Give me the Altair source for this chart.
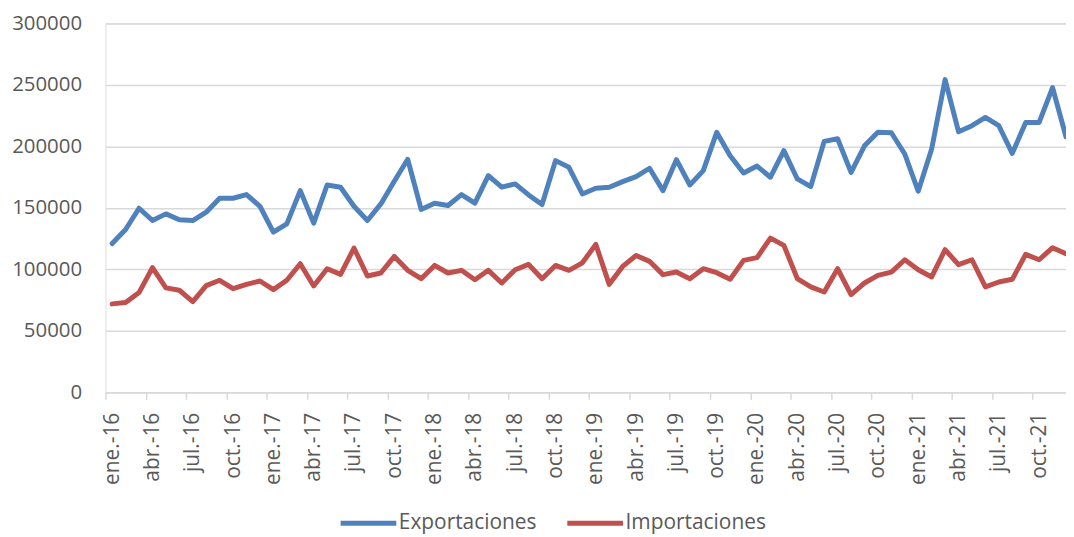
import altair as alt
import pandas as pd

meses = ["ene.", "feb.", "mar.", "abr.", "may.", "jun.",
         "jul.", "ago.", "sep.", "oct.", "nov.", "dic."]
anios = ["16", "17", "18", "19", "20", "21"]
periodos = [f"{m}-{a}" for a in anios for m in meses]

exportaciones = [
    121000, 132400, 149700, 139700, 145100, 140300, 139700, 146500, 157800, 157800, 160800, 151300,
    130300, 137000, 164000, 137600, 168600, 166800, 151300, 139700, 153200, 171600, 189500, 148700,
    153800, 151900, 160800, 153800, 176200, 166800, 169500, 160500, 152700, 188400, 183000, 161300,
    165900, 166800, 171300, 175400, 182200, 164000, 189200, 168600, 180300, 211400, 192400, 178400,
    184000, 174900, 196500, 173500, 167300, 204100, 206200, 178900, 200500, 211400, 211100, 193800,
    163500, 197800, 254300, 211900, 216800, 223500, 216800, 194300, 219500, 219500, 247800, 207800,
]
importaciones = [
    71900, 73000, 81100, 101400, 84900, 83000, 73800, 86800, 91100, 84300, 87800, 90500,
    83500, 91100, 104600, 86500, 100500, 95900, 117300, 94600, 97000, 110500, 99200, 92400,
    103200, 97000, 99200, 91600, 99200, 88900, 99700, 104000, 92400, 103200, 99200, 105300,
    120300, 87800, 102400, 111300, 106500, 95700, 97800, 92400, 100500, 97300, 91900, 107300,
    109500, 125400, 119500, 92400, 85700, 81600, 100500, 79500, 88900, 95100, 97800, 107800,
    99700, 93800, 116000, 103800, 107800, 85700, 89700, 91900, 112200, 107800, 117600, 112700,
]
series = ["Exportaciones", "Importaciones"]
colores = ["#4F81BD", "#C0504D"]
y_ticks = [0, 50000, 100000, 150000, 200000, 250000, 300000]

n = len(periodos)
df = pd.DataFrame({
    "idx": list(range(n)) * 2,
    "periodo": periodos * 2,
    "valor": exportaciones + importaciones,
    "serie": [series[0]] * n + [series[1]] * n,
})

label_expr = "[" + ",".join(f"'{p}'" for p in periodos) + "][datum.value]"
W = 966
step = W / (n - 1 + 0.5)
FONT = "Open Sans"
GRAY = "#595959"

chart = alt.Chart(df).mark_line(
    strokeWidth=5, strokeCap="round", strokeJoin="round"
).encode(
    x=alt.X(
        "idx:Q",
        scale=alt.Scale(domain=[-0.5, n - 1], nice=False, zero=False),
        axis=alt.Axis(
            values=list(range(0, n, 3)), labelExpr=label_expr, labelAngle=-90,
            tickOffset=-step / 2, labelOffset=step / 2, grid=False,
            domainColor="#d9d9d9", domainWidth=1.5, tickColor="#d9d9d9", tickWidth=1.5,
            tickSize=7, labelPadding=13, labelFont=FONT, labelFontSize=21,
            labelColor=GRAY, title=None, labelOverlap=False,
        ),
    ),
    y=alt.Y(
        "valor:Q",
        scale=alt.Scale(domain=[0, 300000], nice=False),
        axis=alt.Axis(
            values=y_ticks, format="d", grid=True, gridColor="#d9d9d9", gridWidth=1.5,
            domain=False, ticks=False, labelPadding=24, labelFont=FONT,
            labelFontSize=20.5, labelColor=GRAY, title=None,
        ),
    ),
    color=alt.Color(
        "serie:N",
        scale=alt.Scale(domain=series, range=colores),
        legend=alt.Legend(
            orient="none", legendX=234, legendY=472, direction="horizontal",
            title=None, symbolType="stroke", symbolSize=3136, symbolStrokeWidth=5,
            labelFont=FONT, labelFontSize=21, labelColor=GRAY, labelOffset=0,
            columnPadding=20, padding=0, labelLimit=300,
        ),
    ),
    order="idx:Q",
).properties(
    width=W, height=371,
    autosize=alt.AutoSizeParams(type="none"),
    padding={"left": 98, "top": 14, "right": 0, "bottom": 142},
).configure_view(stroke=None).configure(background="white")

chart.save("out.html", embed_options={"renderer": "svg", "actions": False})
